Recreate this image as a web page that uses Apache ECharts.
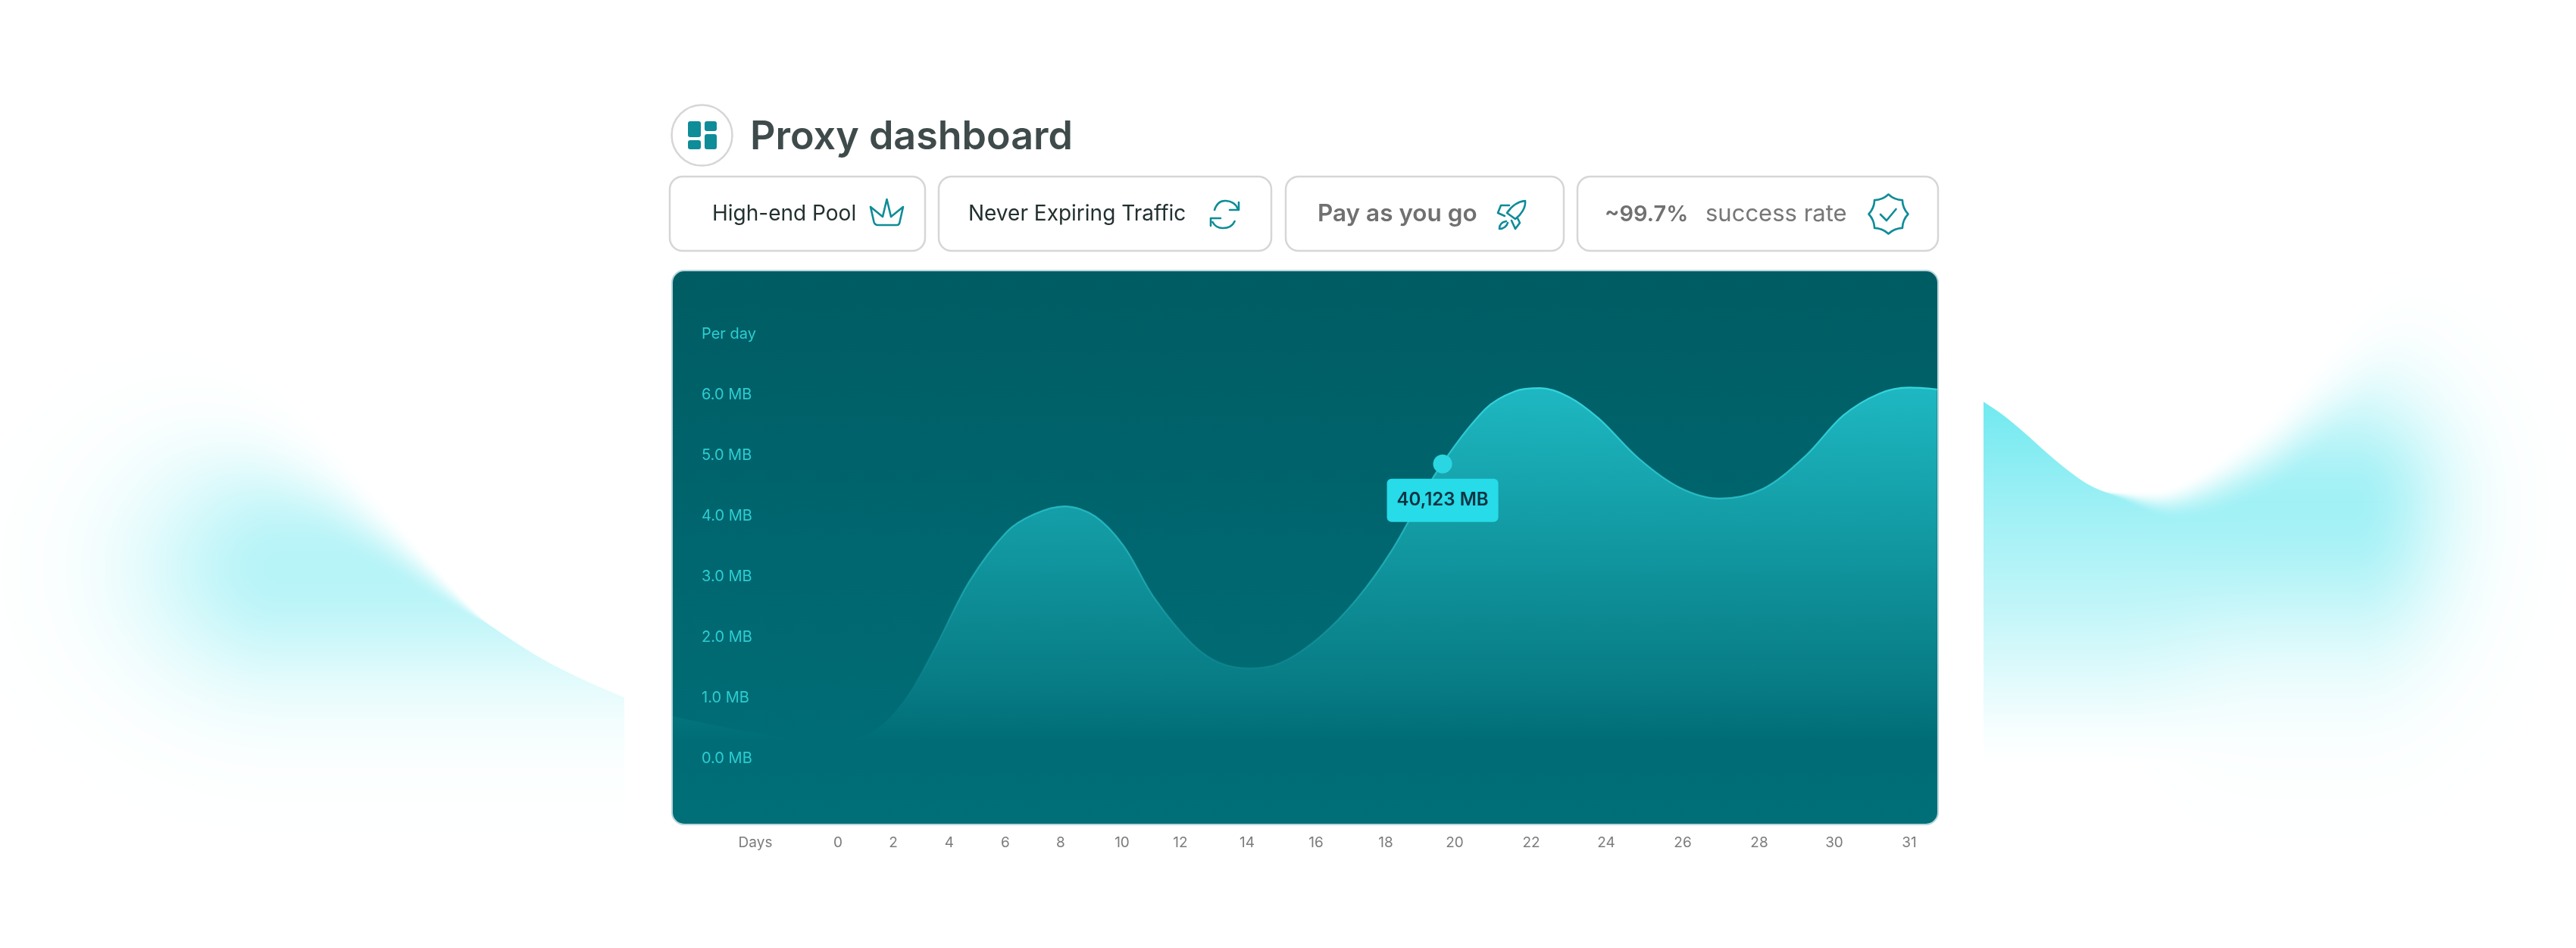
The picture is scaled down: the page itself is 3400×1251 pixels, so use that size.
<!DOCTYPE html>
<html><head><meta charset="utf-8"><style>html,body{margin:0;padding:0;background:#fff}#c{width:3400px;height:1251px}</style>
<script src="https://cdn.jsdelivr.net/npm/echarts@6/dist/echarts.min.js"></script></head><body><div id="c"></div>
<script>
// ---------- data ----------
const curveDays = [-5.97,-3.29,-0.55,1.10,2.38,3.46,4.70,6.05,7.04,8.12,9.11,10.05,11.09,12.34,13.18,14.09,14.97,16.07,17.15,18.17,19.49,20.79,21.58,22.24,22.99,23.80,24.85,25.92,26.97,28.10,29.23,30.12,30.60,31.0,31.37];
const curveMB   = [0.70,0.45,0.30,0.41,0.95,1.80,2.91,3.74,4.03,4.16,4.00,3.51,2.66,1.90,1.58,1.49,1.58,1.99,2.62,3.43,4.74,5.76,6.06,6.11,5.97,5.61,4.95,4.47,4.29,4.45,4.99,5.66,6.02,6.12,6.09];
const dayTicks = [0,2,4,6,8,10,12,14,16,18,20,22,24,26,28,30,31];
const xAxisTitle = 'Days';
const yTickValues = [0,1,2,3,4,5,6];
const yAxisTitle = 'Per day';
const highlightDay = 19.65, highlightMB = 4.86, highlightLabel = '40,123 MB';
const titleText = 'Proxy dashboard';

// ---------- layout (the day axis is unevenly spaced in the picture) ----------
const dayAxisStations = [1106,1179,1253,1327,1400,1481,1558,1646,1737,1829,1920,2021,2120,2221,2322,2421,2520];
const xTitleStation = 997;
const P = {l:887,t:357,r:2558,b:1088};
const warp = d => {
  const n = dayTicks.length; let i = 0;
  while (i < n-2 && d > dayTicks[i+1]) i++;
  return dayAxisStations[i] + (d-dayTicks[i])*(dayAxisStations[i+1]-dayAxisStations[i])/(dayTicks[i+1]-dayTicks[i]);
};
const labelFor = {}; dayTicks.forEach((d,i)=>labelFor[dayAxisStations[i]]=String(d)); labelFor[xTitleStation]=xAxisTitle;

// ---------- decorative glows either side of the panel ----------
const ss=(a,b,x)=>{const t=Math.min(1,Math.max(0,(x-a)/(b-a)));return t*t*(3-2*t)};
function curve(tb,x){let i=0;while(i<tb.length-2&&x>tb[i+1][0])i++;
  const p1=tb[i],p2=tb[i+1],p0=tb[Math.max(0,i-1)],p3=tb[Math.min(tb.length-1,i+2)];
  const h=p2[0]-p1[0],t=(x-p1[0])/h;
  const m1=(p2[1]-p0[1])/(p2[0]-p0[0])*h,m2=(p3[1]-p1[1])/(p3[0]-p1[0])*h,t2=t*t,t3=t2*t;
  return (2*t3-3*t2+1)*p1[1]+(t3-2*t2+t)*m1+(-2*t3+3*t2)*p2[1]+(t3-t2)*m2;}
function lin(tb,x){if(x<=tb[0][0])return tb[0][1];for(let i=1;i<tb.length;i++)if(x<=tb[i][0]){const a=tb[i-1],b=tb[i];return a[1]+(b[1]-a[1])*(x-a[0])/(b[0]-a[0]);}return tb[tb.length-1][1];}
const leftWave=[[100,400],[250,500],[400,615],[500,705],[614,801],[660,834],[717,870],[775,899],[824,920]];
const rightWave=[[2618,530],[2643,547],[2672,571],[2701,597],[2730,621],[2758,640],[2787,651],[2873,662],[2988,605],[3074,519],[3131,445],[3200,350],[3400,200]];
const rightV=[[530,.64],[662,.45],[800,.28],[900,.13],[960,.04],[1005,0]];
function glowCanvas(){
  const cv=document.createElement('canvas');cv.width=3400;cv.height=1251;const g=cv.getContext('2d');
  const im=g.createImageData(3400,1251),D=im.data;
  const put=(x,y,a)=>{const k=(y*3400+x)*4;D[k]=34;D[k+1]=221;D[k+2]=232;D[k+3]=Math.round(255*Math.min(1,Math.max(0,a)));};
  for(let y=300;y<1200;y++){
    for(let x=0;x<824;x++){
      const cx=373,cy=748,dy=y-cy,dx=x<cx?(cx-x)/185:0,e=dx*dx+(dy/(dy<0?150:155))**2;
      const s=1+Math.max(0,640-x)*0.35,d=y-curve(leftWave,Math.max(100,x));
      put(x,y,.33*Math.exp(-e)*ss(-s,s,d));
    }
    for(let x=2618;x<3400;x++){
      const cx=3105,cy=662,dy=y-cy;let a=lin(rightV,y);
      const t=ss(2780,3000,x);
      if(dy<0){a=a+(0.42*Math.exp(-((dy/145)**2))-a)*t;}
      if(dy>0&&x>2780){a=a+(0.42*Math.exp(-((dy/190)**2))-a)*t;}
      if(x>cx)a*=Math.exp(-(((x-cx)/125)**2));
      const s=x<2780?1:1+(x-2780)*0.25,d=y-curve(rightWave,x);
      put(x,y,a*ss(-s,s,d));
    }
  }
  g.putImageData(im,0,0);return cv;
}

// ---------- header furniture ----------
const TEAL='#0e8c98', BORDER='#d6d6d6';
const card=(x0,x1)=>({type:'rect',shape:{x:x0,y:233,width:x1-x0,height:98,r:17},style:{fill:'#fff',stroke:BORDER,lineWidth:2.5}});
const txt=(x,t,font,fill,y)=>({type:'text',x:x,y:y||283,style:{text:t,font:font,fill:fill,textVerticalAlign:'middle'}});
const icon=(d)=>({type:'path',shape:{pathData:d},style:{fill:'none',stroke:TEAL,lineWidth:2.6,lineJoin:'round',lineCap:'round'}});
const tile=(x,y,w,h)=>({type:'rect',shape:{x,y,width:w,height:h,r:3},style:{fill:TEAL}});
function badgePath(cx,cy,R){let s='';for(let i=0;i<8;i++){
  const a=-Math.PI/2+i*Math.PI/4,b=a+Math.PI/8,c=a+Math.PI/4;
  const px=cx+R*Math.cos(a),py=cy+R*Math.sin(a),qx=cx+R*.78*Math.cos(b),qy=cy+R*.78*Math.sin(b),ex=cx+R*Math.cos(c),ey=cy+R*Math.sin(c);
  if(i===0)s+='M'+px+' '+py;s+=' Q'+qx+' '+qy+' '+ex+' '+ey;}return s+'Z';}
const icons=[
  icon('M1149 273 L1153.5 293 Q1154.5 297 1159 297 L1183.7 297 Q1187 297 1187.5 293 L1192 273 L1176 286 L1170.5 263 L1165 286 Z'),
  icon('M1603 277 C1606 268 1612 264.5 1618 265 C1625 265.5 1631 269 1633.5 275 M1635 267 L1635 277 L1623 277 M1598 298 L1598 288 L1611 288 M1600.5 293 C1603 298 1608 301 1614 301 C1621 301 1627 298 1629.6 292'),
  icon('M2013 265 C2003 266 1995 272 1989 281 L2000 289 C2008 283 2014 274 2013 265 Z M1992 271 L1981 271 L1977 281 L1986 285 M2003 288 L2006 294 L2000 302 L1995 291 M1988 292 C1982 293 1979 297 1979 302 C1985 302 1989 298 1990 294'),
  icon(badgePath(2492.5,282.5,26)+' M2482 283 L2490 291 L2502.5 276')
];

const graphic=[
  {type:'image',silent:true,x:0,y:0,style:{image:glowCanvas(),width:3400,height:1251}},
  {type:'rect',shape:{x:P.l,y:P.t,width:P.r-P.l,height:P.b-P.t,r:16},
   style:{stroke:'#b9d6dc',lineWidth:2,fill:new echarts.graphic.LinearGradient(0,0,0,1,[{offset:0,color:'#005c63'},{offset:.5,color:'#00666f'},{offset:1,color:'#006f78'}])}},
  {type:'circle',shape:{cx:926.5,cy:178.5,r:40},style:{fill:'#fff',stroke:BORDER,lineWidth:2.5}},
  tile(908,160,17,21),tile(908,185,17,12),tile(930,160,16,13),tile(930,177,16,20),
  card(884,1221),card(1239,1678),card(1697,2064),card(2082,2558),
  txt(940,'High-end Pool','400 28px Inter','#22302f'),
  txt(1278,'Never Expiring Traffic','400 28px Inter','#22302f'),
  txt(1739,'Pay as you go','600 31.5px Inter','#707070'),
  txt(2118,'~99.7%','600 29px Inter','#707070'),
  txt(2251,'success rate','400 31px Inter','#777777')
];

const chart=echarts.init(document.getElementById('c'),null,{renderer:'canvas',width:3400,height:1251});
chart.setOption({
  animation:false,backgroundColor:'#fff',
  title:{text:titleText,left:985,top:150,textStyle:{fontFamily:'Inter',fontWeight:600,fontSize:52,color:'#3e4b4a'}},
  graphic:{elements:graphic},
  grid:{left:888,right:3400-2557,top:358,bottom:1251-1087,containLabel:false},
  xAxis:{type:'value',min:888,max:2557,axisLine:{show:false},axisTick:{show:false},splitLine:{show:false},
    axisLabel:{customValues:[xTitleStation].concat(dayAxisStations),formatter:v=>labelFor[v],margin:16,color:'#7c7c7c',fontFamily:'Inter',fontSize:19,showMinLabel:true,showMaxLabel:true}},
  yAxis:{type:'value',z:10,min:-1.075,max:8.0375,axisLine:{show:false},axisTick:{show:false},splitLine:{show:false},
    axisLabel:{inside:true,margin:38,padding:[6,0,0,0],customValues:yTickValues.concat([7]),formatter:v=>v===7?yAxisTitle:v.toFixed(1)+' MB',color:'#2ccdd2',fontFamily:'Inter',fontSize:20,showMinLabel:true,showMaxLabel:true}},
  series:[
    {type:'line',smooth:.33,symbol:'none',clip:true,silent:true,
     data:curveDays.map((d,i)=>[warp(d),curveMB[i]]),
     lineStyle:{width:2.2,color:new echarts.graphic.LinearGradient(0,0,0,1,[{offset:0,color:'rgba(52,214,222,1)'},{offset:.55,color:'rgba(40,190,198,.6)'},{offset:.92,color:'rgba(30,160,170,0)'}])},
     areaStyle:{origin:'start',opacity:1,color:new echarts.graphic.LinearGradient(0,0,0,1,[{offset:0,color:'#1eb8c2'},{offset:.31,color:'#139ca5'},{offset:.675,color:'#087c85'},{offset:.81,color:'#006d76'},{offset:.88,color:'rgba(0,109,118,.9)'},{offset:.97,color:'rgba(0,111,120,0)'}])}},
    {type:'scatter',silent:true,z:5,symbol:'circle',symbolSize:25,itemStyle:{color:'#2ad6e1',opacity:1},
     data:[[warp(highlightDay),highlightMB]],
     label:{show:true,opacity:1,position:'bottom',distance:7,formatter:highlightLabel,backgroundColor:'#27dbe8',borderRadius:6,padding:[17,13],color:'#0c3342',fontFamily:'Inter',fontWeight:600,fontSize:24,lineHeight:23}},
    {type:'custom',coordinateSystem:'none',silent:true,z:6,data:[0],renderItem:()=>({type:'group',children:icons})}
  ]
});
</script></body></html>
